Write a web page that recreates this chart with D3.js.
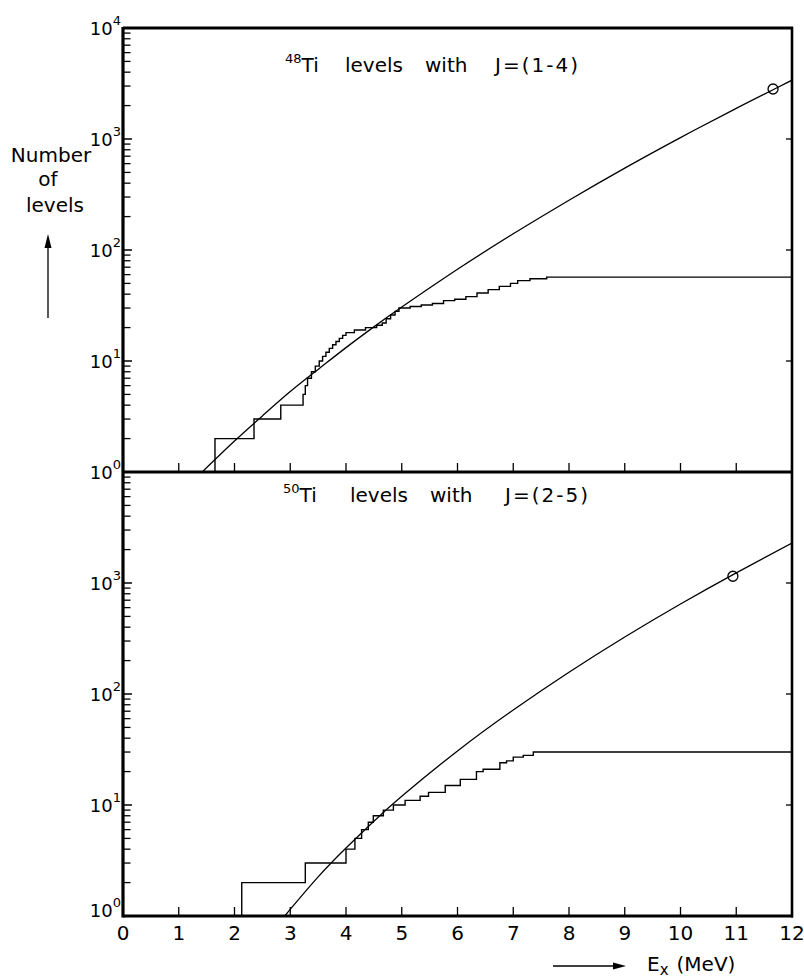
<!DOCTYPE html>
<html><head><meta charset="utf-8">
<script src="https://cdn.jsdelivr.net/npm/d3@7"></script>
<style>body{margin:0;background:#fff}text{font-family:"DejaVu Sans",sans-serif;fill:#000}</style></head>
<body><svg id="c" width="804" height="980"></svg>
<script>
// ---------- data ----------
const energyTicks = [0,1,2,3,4,5,6,7,8,9,10,11,12];
const decadeExp = [0,1,2,3,4];
// 48Ti: smooth level-density curve
const ti48CurveE = [1.42,2.0,2.5,3.0,3.5,4.0,4.5,5.0,6.0,7.0,8.0,9.0,10.0,11.0,11.66,12.0];
const ti48CurveN = [1.0,1.9,3.2,5.3,8.4,13.2,20.3,30.6,67,140,281,547,1030,1890,2780,3390];
// 48Ti: cumulative number of levels (staircase)
const ti48StepE = [0.98,1.65,2.35,2.83,3.23,3.27,3.31,3.38,3.45,3.52,3.58,3.64,3.70,3.76,3.82,3.88,3.94,4.0,4.15,4.35,4.55,4.65,4.72,4.8,4.88,4.95,5.15,5.35,5.55,5.75,5.95,6.15,6.35,6.55,6.75,6.95,7.08,7.3,7.6,12.0];
const ti48StepN = [1,2,3,4,5,6,7,8,9,10,11,12,13,14,15,16,17,18,19,20,21,22,24,26,28,30,31,32,33,35,36,38,41,44,47,50,53,55,57,57];
const ti48Point = {E: 11.66, N: 2820};
// 50Ti
const ti50CurveE = [2.9,3.5,4.0,4.5,5.0,6.0,7.0,8.0,9.0,10.0,11.0,12.0];
const ti50CurveN = [1,2.25,4.1,7.15,12.0,30.7,71.8,157,326,647,1235,2290];
const ti50StepE = [0.5,2.13,3.27,4.0,4.13,4.16,4.28,4.40,4.49,4.67,4.85,5.06,5.33,5.48,5.78,6.05,6.34,6.46,6.76,6.88,7.0,7.18,7.36,12.0];
const ti50StepN = [1,2,3,4,4,5,6,7,8,9,10,11,12,13,15,17,20,21,24,25,27,28,30,30];
const ti50Point = {E: 10.94, N: 1150};

// ---------- layout ----------
const svg = d3.select("#c");
const X0 = 123, X1 = 792;
const x = d3.scaleLinear().domain([0,12]).range([X0,X1]);
const panels = [
  {top:28, bottom:472, cE:ti48CurveE, cN:ti48CurveN, sE:ti48StepE, sN:ti48StepN, pt:ti48Point,
   iso:"48", jtxt:"J=(1-4)", titleY:72, titleX:[285,345,425,495], labelExp:[0,1,2,3,4]},
  {top:472, bottom:916, cE:ti50CurveE, cN:ti50CurveN, sE:ti50StepE, sN:ti50StepN, pt:ti50Point,
   iso:"50", jtxt:"J=(2-5)", titleY:502, titleX:[283,350,430,505], labelExp:[0,1,2,3]}
];

panels.forEach((p,pi) => {
  const y = d3.scaleLog().domain([1,1e4]).range([p.bottom,p.top]);
  const g = svg.append("g");
  const clipId = "clip"+pi;
  svg.append("clipPath").attr("id",clipId).append("rect")
    .attr("x",X0).attr("y",p.top).attr("width",X1-X0).attr("height",p.bottom-p.top);

  // minor + major ticks on left axis (inward)
  const ticksG = g.append("g");
  [1,10,100,1000].forEach(d => {
    for (let k=2;k<=9;k++){
      const v=d*k;
      ticksG.append("line").attr("x1",X0).attr("x2",X0+7.5)
        .attr("y1",y(v)).attr("y2",y(v)).attr("stroke","#000").attr("stroke-width",1.3);
    }
  });
  decadeExp.forEach(e => {
    ticksG.append("line").attr("x1",X0).attr("x2",X0+9)
      .attr("y1",y(Math.pow(10,e))).attr("y2",y(Math.pow(10,e))).attr("stroke","#000").attr("stroke-width",1.5);
    if (e>0 && e<4) ticksG.append("line").attr("x1",X1).attr("x2",X1-6)
      .attr("y1",y(Math.pow(10,e))).attr("y2",y(Math.pow(10,e))).attr("stroke","#000").attr("stroke-width",1.3);
  });
  // x ticks on bottom line (upward)
  energyTicks.filter(t=>t>0 && t<12).forEach(t => {
    g.append("line").attr("x1",x(t)).attr("x2",x(t)).attr("y1",p.bottom).attr("y2",p.bottom-9)
      .attr("stroke","#000").attr("stroke-width",1.3);
  });

  // y tick labels
  p.labelExp.forEach(e => {
    const yy = (pi===1 && e===0) ? p.bottom - 6 : y(Math.pow(10,e));
    const t = g.append("text").attr("x",121).attr("y",yy+7).attr("text-anchor","end").attr("font-size",18);
    t.append("tspan").text("10");
    t.append("tspan").attr("dy",-10).attr("font-size",13).text(String(e));
  });

  // curves
  const line = d3.line().x(d=>x(d[0])).y(d=>y(d[1])).curve(d3.curveNatural);
  g.append("path").attr("clip-path",`url(#${clipId})`)
    .attr("d", line(p.cE.map((e,i)=>[e,p.cN[i]])))
    .attr("fill","none").attr("stroke","#000").attr("stroke-width",1.3);
  const step = d3.line().x(d=>x(d[0])).y(d=>y(d[1])).curve(d3.curveStepAfter);
  g.append("path").attr("clip-path",`url(#${clipId})`)
    .attr("d", step(p.sE.map((e,i)=>[e,p.sN[i]])))
    .attr("fill","none").attr("stroke","#000").attr("stroke-width",1.4);
  g.append("circle").attr("cx",x(p.pt.E)).attr("cy",y(p.pt.N)).attr("r",5)
    .attr("fill","none").attr("stroke","#000").attr("stroke-width",1.3);

  // title
  const tx = p.titleX;
  const t1 = g.append("text").attr("x",tx[0]).attr("y",p.titleY).attr("font-size",20);
  t1.append("tspan").attr("dy",-9).attr("font-size",13).text(p.iso);
  t1.append("tspan").attr("dy",9).text("Ti");
  g.append("text").attr("x",tx[1]).attr("y",p.titleY).attr("font-size",20).text("levels");
  g.append("text").attr("x",tx[2]).attr("y",p.titleY).attr("font-size",20).text("with");
  g.append("text").attr("x",tx[3]).attr("y",p.titleY).attr("font-size",20).attr("letter-spacing",2).text(p.jtxt);
});

// frame lines
const frame = svg.append("g").attr("stroke","#000").attr("fill","none");
frame.append("line").attr("x1",X0).attr("x2",X0).attr("y1",27).attr("y2",917.5).attr("stroke-width",3.2);
frame.append("line").attr("x1",X0).attr("x2",X1+1).attr("y1",28).attr("y2",28).attr("stroke-width",3);
frame.append("line").attr("x1",X0).attr("x2",X1+1).attr("y1",472).attr("y2",472).attr("stroke-width",3);
frame.append("line").attr("x1",X0).attr("x2",X1+1).attr("y1",916).attr("y2",916).attr("stroke-width",3);
frame.append("line").attr("x1",X1).attr("x2",X1).attr("y1",27).attr("y2",917.5).attr("stroke-width",2.6);

// x tick labels
energyTicks.forEach(t => {
  svg.append("text").attr("x",x(t)).attr("y",940).attr("text-anchor","middle").attr("font-size",20).text(String(t));
});

// x axis title with arrow
svg.append("line").attr("x1",553).attr("x2",616).attr("y1",966).attr("y2",966).attr("stroke","#000").attr("stroke-width",1.3);
svg.append("path").attr("d","M626,966 L613,962.5 L613,969.5 Z").attr("fill","#000");
const xt = svg.append("text").attr("x",647).attr("y",971).attr("font-size",20);
xt.append("tspan").text("E");
xt.append("tspan").attr("dy",4).attr("font-size",15).text("x");
xt.append("tspan").attr("dy",-4).attr("dx",8).text("(MeV)");

// y axis title with arrow
svg.append("text").attr("x",51).attr("y",162).attr("text-anchor","middle").attr("font-size",20).text("Number");
svg.append("text").attr("x",48).attr("y",186).attr("text-anchor","middle").attr("font-size",20).text("of");
svg.append("text").attr("x",55).attr("y",212).attr("text-anchor","middle").attr("font-size",20).text("levels");
svg.append("line").attr("x1",48).attr("x2",48).attr("y1",318).attr("y2",245).attr("stroke","#000").attr("stroke-width",1.3);
svg.append("path").attr("d","M48,234 L44.5,248 L51.5,248 Z").attr("fill","#000");
</script></body></html>
